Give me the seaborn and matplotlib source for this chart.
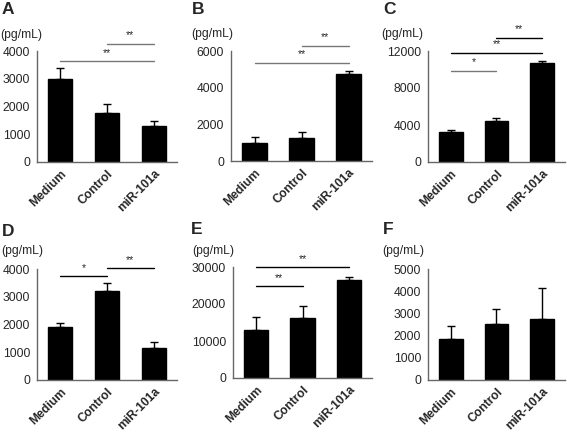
import matplotlib
matplotlib.use("Agg")
import matplotlib.pyplot as plt
import seaborn as sns
import pandas as pd

sns.set_style("white")
plt.rcParams['font.family'] = ['Liberation Sans', 'DejaVu Sans']

categories = ["Medium", "Control", "miR-101a"]

A_mean = [3000, 1780, 1290]
A_err = [390, 300, 180]
B_mean = [970, 1250, 4750]
B_err = [330, 320, 180]
C_mean = [3190, 4400, 10750]
C_err = [320, 320, 140]
D_mean = [1910, 3195, 1165]
D_err = [160, 290, 215]
E_mean = [13060, 16300, 26400]
E_err = [3430, 3250, 900]
F_mean = [1850, 2520, 2760]
F_err = [580, 680, 1400]

A_ticks = [0, 1000, 2000, 3000, 4000]
B_ticks = [0, 2000, 4000, 6000]
C_ticks = [0, 4000, 8000, 12000]
D_ticks = [0, 1000, 2000, 3000, 4000]
E_ticks = [0, 10000, 20000, 30000]
F_ticks = [0, 1000, 2000, 3000, 4000, 5000]

# significance brackets: (from, to, height, label, colour)
A_sig = [(0, 2, 3630, "**", "#777777"), (1, 2, 4260, "**", "#777777")]
B_sig = [(0, 2, 5370, "**", "#777777"), (1, 2, 6270, "**", "#777777")]
C_sig = [(0, 1, 9890, "*", "#777777"), (0, 2, 11820, "**", "black"), (1, 2, 13430, "**", "black")]
D_sig = [(0, 1, 3740, "*", "black"), (1, 2, 4020, "**", "black")]
E_sig = [(0, 1, 24780, "**", "black"), (0, 2, 29900, "**", "black")]
F_sig = []

W, H = 567, 434
fig = plt.figure(figsize=(W / 100, H / 100), dpi=100)


def rect(x0, x1, ytop, ybot):
    return [x0 / W, 1 - ybot / H, (x1 - x0) / W, (ybot - ytop) / H]


panels = [
    ("A", A_mean, A_err, A_ticks, A_sig, rect(37, 177, 51, 162), (2, 10), (0, 35)),
    ("B", B_mean, B_err, B_ticks, B_sig, rect(231, 372, 51, 161), (192, 10), (191, 34)),
    ("C", C_mean, C_err, C_ticks, C_sig, rect(428, 565, 51, 162), (383, 10), (381, 34)),
    ("D", D_mean, D_err, D_ticks, D_sig, rect(37, 177, 269, 380), (2, 231), (1, 251)),
    ("E", E_mean, E_err, E_ticks, E_sig, rect(233, 372, 267, 378), (191, 229), (192, 251)),
    ("F", F_mean, F_err, F_ticks, F_sig, rect(428, 565, 269, 380), (383, 229), (382, 251)),
]

for letter, mean, err, ticks, sig, r, lpos, upos in panels:
    ax = fig.add_axes(r)
    df = pd.DataFrame({"group": categories, "value": mean})
    sns.barplot(data=df, x="group", y="value", color="black", width=0.52,
                errorbar=None, ax=ax, saturation=1, edgecolor="black")
    xs = list(range(len(categories)))
    ax.errorbar(xs, mean, yerr=[[0] * len(err), err], fmt="none",
                ecolor="black", elinewidth=1, capsize=3, capthick=1)
    ax.set_xlim(-0.5, 2.5)
    ax.set_ylim(0, ticks[-1])
    ax.set_yticks(ticks)
    ax.set_yticklabels([str(t) for t in ticks], fontsize=8.7)
    ax.set_xticks(xs)
    ax.set_xticklabels(categories, rotation=45, ha="right", rotation_mode="anchor",
                       fontsize=8.7, fontweight="bold")
    ax.set_xlabel("")
    ax.set_ylabel("")
    ax.tick_params(axis="y", length=0, pad=5)
    ax.tick_params(axis="x", length=0, pad=4)
    for s in ["top", "right"]:
        ax.spines[s].set_visible(False)
    for s in ["left", "bottom"]:
        ax.spines[s].set_color("#666666")
        ax.spines[s].set_linewidth(1)
    for (a, b, h, lab, col) in sig:
        ax.plot([a, b], [h, h], color=col, lw=1, clip_on=False)
        ax.annotate(lab, xy=((a + b) / 2, h), xytext=(0, 2.5), textcoords="offset points",
                    ha="center", va="bottom", fontsize=7.5, annotation_clip=False)
    fig.text(lpos[0] / W, 1 - lpos[1] / H, letter, fontsize=12.5, fontweight="bold",
             ha="left", va="center")
    fig.text(upos[0] / W, 1 - upos[1] / H, "(pg/mL)", fontsize=8.7,
             ha="left", va="center")

fig.savefig("out.png", dpi=100)
